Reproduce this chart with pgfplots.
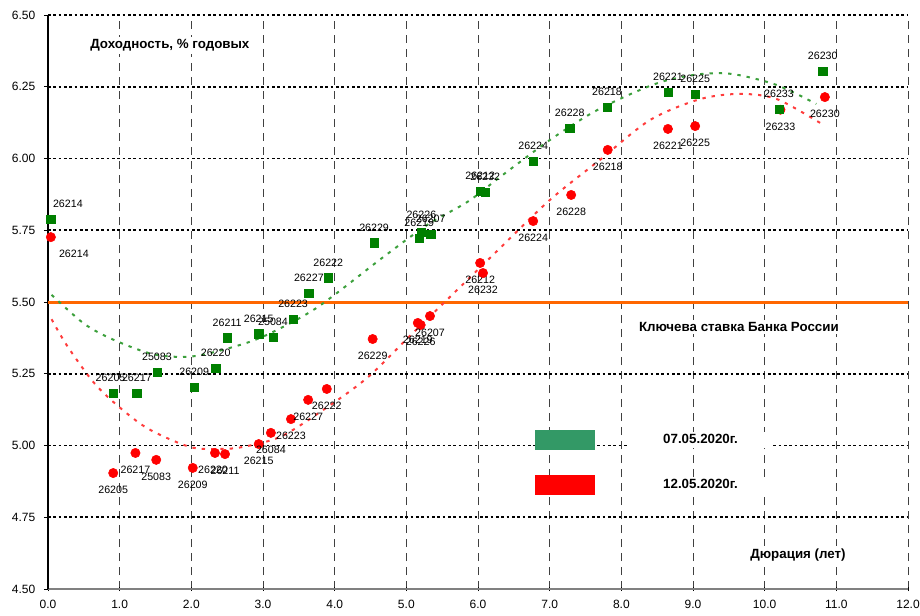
\documentclass[border=0pt]{standalone}
\usepackage{fontspec}
\setmainfont{Liberation Sans}
\usepackage{pgfplots}
\pgfplotsset{compat=1.18}
\usepackage{pgfplotstable}
\usetikzlibrary{calc}

\definecolor{mkgreen}{RGB}{0,128,0}
\definecolor{trgreen}{RGB}{60,160,60}
\definecolor{lggreen}{RGB}{51,153,102}
\definecolor{mkred}{RGB}{255,0,0}
\definecolor{trred}{RGB}{255,60,60}
\definecolor{keyorange}{RGB}{255,102,0}

% 07.05.2020
\pgfplotstableread{
x     y     lab    dx     dy
0.04  5.789 26214  12.75  11.25
0.91  5.183 26205  -2.0   11.25
1.24  5.183 26217  0      11.25
1.52  5.256 25083  0      11.25
2.04  5.204 26209  0      11.25
2.34  5.270 26220  0      11.25
2.50  5.375 26211  0      11.25
2.94  5.389 26215  0      11.25
3.14  5.378 25084  0      11.25
3.42  5.441 26223  0      11.25
3.64  5.531 26227  0      11.25
3.91  5.584 26222  0      11.25
4.55  5.706 26229  0      11.25
5.18  5.723 26219  0      11.25
5.21  5.744 26226  0      12.5
5.34  5.737 26207  0      11.25
6.03  5.887 26212  0      11.25
6.10  5.883 26232  0      11.25
6.77  5.991 26224  0      11.25
7.28  6.106 26228  0      11.25
7.80  6.179 26218  0      11.25
8.65  6.232 26221  0      11.25
9.03  6.225 26225  0      11.25
10.20 6.172 26233  0      11.25
10.81 6.305 26230  0      11.25
}\greendata

% 12.05.2020
\pgfplotstableread{
x     y     lab    dx     dy
0.04  5.726 26214  17.25  -12.75
0.91  4.904 26205  0      -12.4
1.22  4.974 26217  0      -12.4
1.51  4.950 25083  0      -12.4
2.02  4.922 26209  0      -12.4
2.33  4.974 26220  -1.5   -12.4
2.47  4.970 26211  0      -12.4
2.94  5.005 26215  0      -12.4
3.11  5.044 26084  0      -12.4
3.39  5.092 26223  0      -12.4
3.63  5.159 26227  0      -12.4
3.89  5.197 26222  0      -12.4
4.53  5.371 26229  0      -12.4
5.16  5.427 26219  0      -12.4
5.20  5.420 26226  0      -12.4
5.33  5.451 26207  0      -12.4
6.03  5.636 26212  0      -12.4
6.07  5.601 26232  0      -12.4
6.77  5.782 26224  0      -12.4
7.30  5.873 26228  0      -12.4
7.81  6.030 26218  0      -12.4
8.65  6.103 26221  0      -12.4
9.03  6.113 26225  0      -12.4
10.22 6.170 26233  0      -13.0
10.84 6.214 26230  0      -12.4
}\reddata

\begin{document}
\begin{tikzpicture}
\begin{axis}[
  scale only axis, width=645pt, height=430.5pt,
  xmin=0, xmax=12, ymin=4.5, ymax=6.5,
  axis x line*=bottom, axis y line*=left,
  x axis line style={-, draw=black!50, line width=1.2pt},
  y axis line style={-, draw=black, line width=0.8pt},
  xtick={0,1,2,3,4,5,6,7,8,9,10,11,12},
  xticklabels={0.0,1.0,2.0,3.0,4.0,5.0,6.0,7.0,8.0,9.0,10.0,11.0,12.0},
  ytick={4.5,4.75,5,5.25,5.5,5.75,6,6.25,6.5},
  yticklabels={4.50,4.75,5.00,5.25,5.50,5.75,6.00,6.25,6.50},
  tick label style={font=\fontsize{9}{10}\selectfont},
  xticklabel style={yshift=-3.5pt},
  yticklabel style={xshift=-3pt},
  xtick align=center, ytick align=outside,
  major tick length=3pt,
  tick style={black, line width=0.6pt},
  xmajorgrids, ymajorgrids,
  x grid style={draw=black!75, line width=0.75pt, dash pattern=on 6pt off 4.5pt},
  y grid style={draw=black, line width=1.2pt, dash pattern=on 2pt off 2pt},
  clip=false,
  reverse legend,
  legend style={draw=none, fill=none, at={(axis cs:6.795,5.054)}, anchor=north west,
    inner sep=0pt, row sep=19.1pt, cells={anchor=center},
    nodes={fill=white, text width=100pt, align=center, inner xsep=4pt, inner ysep=2pt,
      font=\bfseries\fontsize{10}{12}\selectfont}},
]
\coordinate (ll) at (rel axis cs:0,0);
\coordinate (ur) at (rel axis cs:1,1);

% key rate
\addplot[keyorange, line width=2.25pt, forget plot] coordinates {(0,5.5) (12,5.5)};

% trend lines
\addplot[trgreen, line width=1.5pt, dash pattern=on 2.5pt off 4.5pt, smooth, forget plot] coordinates {
(0.05,5.525) (0.5,5.425) (0.9,5.37) (1.47,5.318) (2.0,5.31) (2.58,5.343) (3.05,5.385)
(3.75,5.48) (4.67,5.655) (5.3,5.77) (5.86,5.85) (6.31,5.936) (7.0,6.064) (7.6,6.16)
(8.16,6.228) (8.6,6.27) (9.1,6.294) (9.56,6.294) (10.17,6.256) (10.72,6.19)};
\addplot[trred, line width=1.5pt, dash pattern=on 2.5pt off 4.5pt, smooth, forget plot] coordinates {
(0.05,5.44) (0.26,5.35) (0.61,5.228) (0.91,5.152) (1.38,5.061) (1.98,4.995) (2.40,4.988)
(2.72,4.995) (3.24,5.030) (3.80,5.117) (4.45,5.235) (5.05,5.382) (5.61,5.518) (6.28,5.681)
(7.0,5.855) (7.7,5.995) (8.4,6.134) (9.1,6.207) (9.66,6.225) (10.17,6.207) (10.8,6.12)};

% 12.05.2020
\addplot[only marks, mark=*, mark size=3.5pt, color=mkred,
  legend image code/.code={\fill[mkred] (0pt,-7.1pt) rectangle (44.25pt,7.1pt); \path[draw=none,fill=none] (0pt,0pt) rectangle (69.75pt,0pt);},
  nodes near coords, point meta=explicit symbolic,
  visualization depends on={\thisrow{dx}\as\dx},
  visualization depends on={\thisrow{dy}\as\dy},
  every node near coord/.append style={anchor=center, xshift=\dx, yshift=\dy,
    text=black, font=\fontsize{8}{9}\selectfont, inner sep=0pt}]
  table[x=x, y=y, meta=lab] {\reddata};
\addlegendentry{12.05.2020г.}

% 07.05.2020
\addplot[only marks, mark=square*, mark size=3.1pt, color=mkgreen,
  legend image code/.code={\fill[lggreen] (0pt,-7.1pt) rectangle (44.25pt,7.1pt); \path[draw=none,fill=none] (0pt,0pt) rectangle (69.75pt,0pt);},
  nodes near coords, point meta=explicit symbolic,
  visualization depends on={\thisrow{dx}\as\dx},
  visualization depends on={\thisrow{dy}\as\dy},
  every node near coord/.append style={anchor=center, xshift=\dx, yshift=\dy,
    text=black, font=\fontsize{8}{9}\selectfont, inner sep=0pt}]
  table[x=x, y=y, meta=lab] {\greendata};
\addlegendentry{07.05.2020г.}

\node[fill=white, inner sep=2pt, font=\bfseries\fontsize{10}{12}\selectfont] at (axis cs:1.70,6.395) {Доходность, \% годовых};
\node[fill=white, inner sep=2pt, font=\bfseries\fontsize{10}{12}\selectfont] at (axis cs:9.64,5.413) {Ключева ставка Банка России};
\node[fill=white, inner sep=2pt, font=\bfseries\fontsize{10}{12}\selectfont] at (axis cs:10.465,4.618) {Дюрация (лет)};
\end{axis}
\pgfresetboundingbox
\path[use as bounding box] ($(ll)+(-36pt,-19.5pt)$) rectangle ($(ur)+(9pt,11.25pt)$);
\end{tikzpicture}
\end{document}
